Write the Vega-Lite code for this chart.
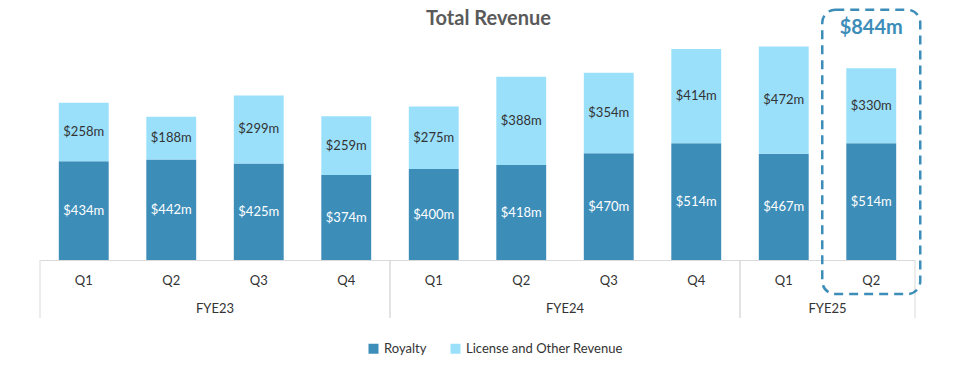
{
  "$schema": "https://vega.github.io/schema/vega-lite/v6.json",
  "width": 875,
  "height": 250,
  "autosize": {"type": "none"},
  "padding": {"left": 40, "top": 10, "right": 45, "bottom": 105},
  "background": "white",
  "config": {"font": "Lato", "view": {"stroke": null}},
  "title": {"text": "Total Revenue", "fontSize": 20, "fontWeight": "bold", "color": "#5a5a5a", "anchor": "middle", "dx": 11, "offset": -20},
  "datasets": {
    "rev": [
      {"key": "FYE23 Q1", "type": "Royalty", "value": 434, "order": 0},
      {"key": "FYE23 Q1", "type": "License and Other Revenue", "value": 258, "order": 1},
      {"key": "FYE23 Q2", "type": "Royalty", "value": 442, "order": 0},
      {"key": "FYE23 Q2", "type": "License and Other Revenue", "value": 188, "order": 1},
      {"key": "FYE23 Q3", "type": "Royalty", "value": 425, "order": 0},
      {"key": "FYE23 Q3", "type": "License and Other Revenue", "value": 299, "order": 1},
      {"key": "FYE23 Q4", "type": "Royalty", "value": 374, "order": 0},
      {"key": "FYE23 Q4", "type": "License and Other Revenue", "value": 259, "order": 1},
      {"key": "FYE24 Q1", "type": "Royalty", "value": 400, "order": 0},
      {"key": "FYE24 Q1", "type": "License and Other Revenue", "value": 275, "order": 1},
      {"key": "FYE24 Q2", "type": "Royalty", "value": 418, "order": 0},
      {"key": "FYE24 Q2", "type": "License and Other Revenue", "value": 388, "order": 1},
      {"key": "FYE24 Q3", "type": "Royalty", "value": 470, "order": 0},
      {"key": "FYE24 Q3", "type": "License and Other Revenue", "value": 354, "order": 1},
      {"key": "FYE24 Q4", "type": "Royalty", "value": 514, "order": 0},
      {"key": "FYE24 Q4", "type": "License and Other Revenue", "value": 414, "order": 1},
      {"key": "FYE25 Q1", "type": "Royalty", "value": 467, "order": 0},
      {"key": "FYE25 Q1", "type": "License and Other Revenue", "value": 472, "order": 1},
      {"key": "FYE25 Q2", "type": "Royalty", "value": 514, "order": 0},
      {"key": "FYE25 Q2", "type": "License and Other Revenue", "value": 330, "order": 1}
    ],
    "years": [
      {"year": "FYE23", "first": "FYE23 Q1", "last": "FYE23 Q4", "center": "FYE23 Q2"},
      {"year": "FYE24", "first": "FYE24 Q1", "last": "FYE24 Q4", "center": "FYE24 Q2"},
      {"year": "FYE25", "first": "FYE25 Q1", "last": "FYE25 Q2", "center": "FYE25 Q1"}
    ]
  },
  "layer": [
    {
      "data": {"name": "rev"},
      "mark": {"type": "bar", "width": {"band": 0.57}},
      "encoding": {
        "x": {
          "field": "key", "type": "nominal", "sort": null,
          "scale": {"domain": ["FYE23 Q1","FYE23 Q2","FYE23 Q3","FYE23 Q4","FYE24 Q1","FYE24 Q2","FYE24 Q3","FYE24 Q4","FYE25 Q1","FYE25 Q2"], "paddingInner": 0, "paddingOuter": 0},
          "axis": {"title": null, "labelExpr": "split(datum.value, ' ')[1]", "labelAngle": 0, "ticks": false, "labelPadding": 14, "labelFontSize": 13, "labelColor": "#333333", "domainColor": "#d9d9d9", "domainWidth": 1}
        },
        "y": {"field": "value", "type": "quantitative", "stack": "zero", "scale": {"domain": [0, 1100], "nice": false}, "axis": null},
        "color": {
          "field": "type", "type": "nominal",
          "scale": {"domain": ["Royalty", "License and Other Revenue"], "range": ["#3d8db9", "#9ae0fb"]},
          "legend": {"title": null, "orient": "none", "direction": "horizontal", "legendX": 327, "legendY": 332, "symbolType": "square", "symbolSize": 100, "symbolStrokeWidth": 0, "labelFontSize": 13, "labelColor": "#333333", "columnPadding": 22}
        },
        "order": {"field": "order", "type": "quantitative"}
      }
    },
    {
      "data": {"name": "rev"},
      "transform": [
        {"stack": "value", "groupby": ["key"], "sort": [{"field": "order"}], "as": ["y0", "y1"]},
        {"calculate": "(datum.y0 + datum.y1) / 2", "as": "mid"},
        {"calculate": "'$' + datum.value + 'm'", "as": "label"}
      ],
      "mark": {"type": "text", "fontSize": 13, "baseline": "middle"},
      "encoding": {
        "x": {"field": "key", "type": "nominal"},
        "y": {"field": "mid", "type": "quantitative"},
        "text": {"field": "label"},
        "color": {"condition": {"test": "datum.type === 'Royalty'", "value": "#ffffff"}, "value": "#333333"}
      }
    },
    {
      "data": {"name": "years"},
      "mark": {"type": "rule", "color": "#d9d9d9", "strokeWidth": 1},
      "encoding": {
        "x": {"field": "first", "type": "nominal", "bandPosition": 0},
        "y": {"datum": 0},
        "y2": {"datum": -255}
      }
    },
    {
      "data": {"name": "years"},
      "mark": {"type": "rule", "color": "#d9d9d9", "strokeWidth": 1},
      "encoding": {
        "x": {"field": "last", "type": "nominal", "bandPosition": 1},
        "y": {"datum": 0},
        "y2": {"datum": -255}
      }
    },
    {
      "data": {"name": "years"},
      "mark": {"type": "text", "fontSize": 13, "color": "#333333", "baseline": "middle", "dy": 49},
      "encoding": {
        "x": {"field": "center", "type": "nominal", "bandPosition": 1},
        "y": {"datum": 0},
        "text": {"field": "year"}
      }
    },
    {
      "data": {"name": "rev"},
      "transform": [
        {"filter": "datum.key === 'FYE25 Q2'"},
        {"aggregate": [{"op": "sum", "field": "value", "as": "total"}], "groupby": ["key"]}
      ],
      "mark": {"type": "bar", "width": {"band": 1.12}, "fill": "transparent", "stroke": "#3d8db9", "strokeWidth": 2.5, "strokeDash": [9, 6], "cornerRadius": 13},
      "encoding": {
        "x": {"field": "key", "type": "nominal"},
        "y": {"datum": 1101},
        "y2": {"datum": -150}
      }
    },
    {
      "data": {"name": "rev"},
      "transform": [
        {"filter": "datum.key === 'FYE25 Q2'"},
        {"aggregate": [{"op": "sum", "field": "value", "as": "total"}], "groupby": ["key"]},
        {"calculate": "'$' + datum.total + 'm'", "as": "label"}
      ],
      "mark": {"type": "text", "fontSize": 20, "fontWeight": "bold", "color": "#3d8db9", "baseline": "middle"},
      "encoding": {
        "x": {"field": "key", "type": "nominal"},
        "y": {"datum": 1021},
        "text": {"field": "label"}
      }
    }
  ]
}
